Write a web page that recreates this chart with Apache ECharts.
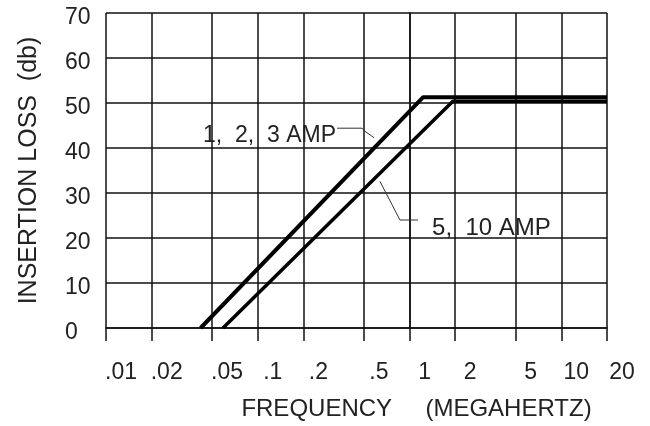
<!DOCTYPE html>
<html>
<head>
<meta charset="utf-8">
<script src="https://cdn.jsdelivr.net/npm/echarts@6/dist/echarts.min.js"></script>
<style>html,body{margin:0;padding:0;background:#fff}#c{width:650px;height:426px}</style>
</head>
<body>
<div id="c"></div>
<script>
// Tick frequencies (MHz) and their labels
const tickFreqs = [0.01, 0.02, 0.05, 0.1, 0.2, 0.5, 1, 2, 5, 10, 20];
const tickLabels = ['.01', '.02', '.05', '.1', '.2', '.5', '1', '2', '5', '10', '20'];
const yTicks = [0, 10, 20, 30, 40, 50, 60, 70];

// Curves: [frequency MHz, insertion loss dB]
const amp123 = [[0.042, 0], [1.23, 51.3], [20, 51.3]];
const amp510 = [[0.059, 0], [1.93, 50.4], [20, 50.4]];

// Annotation leaders: [frequency MHz, dB]
const leader123 = [[0.333, 44.4], [0.487, 44.4], [0.509, 43.7], [0.583, 42.3]];
const leader510 = [[1.137, 24.0], [0.865, 24.0], [0.638, 32.6]];
const label123 = '1,  2,  3 AMP';
const label510 = '5,  10 AMP';

const toLog = pts => pts.map(p => [Math.log10(p[0]), p[1]]);
const tickLogs = tickFreqs.map(f => Math.log10(f));
const FONT = 'Liberation Sans, Arial, sans-serif';
const TXT = '#222';

function leaderSeries(pts, text, pos, dist, off, size) {
  const d = toLog(pts).map((v, i) => i === 0 ? {
    value: v,
    label: { show: true, position: pos, distance: dist, offset: off, formatter: text,
             fontFamily: FONT, fontSize: size, color: TXT }
  } : { value: v });
  return {
    type: 'line', data: d, symbol: 'circle', symbolSize: 0.1, showSymbol: true,
    lineStyle: { color: '#333', width: 1 }, itemStyle: { color: '#333' },
    silent: true, z: 3, animation: false
  };
}

const chart = echarts.init(document.getElementById('c'), null, { renderer: 'canvas' });
chart.setOption({
  backgroundColor: '#fff',
  animation: false,
  grid: { left: 106, right: 43, top: 13, bottom: 98, outerBoundsMode: 'none' },
  xAxis: {
    type: 'value',
    min: Math.log10(0.01),
    max: Math.log10(20),
    name: 'FREQUENCY     (MEGAHERTZ)',
    nameLocation: 'middle',
    nameGap: 69,
    nameMoveOverlap: false,
    nameTextStyle: { fontFamily: FONT, fontSize: 24, color: TXT, padding: [0, 0, 0, 120] },
    axisLine: { show: true, lineStyle: { color: '#111', width: 1.5 } },
    axisTick: { show: true, inside: false, length: 13, customValues: tickLogs,
                lineStyle: { color: '#111', width: 1.5 } },
    splitLine: { show: true, lineStyle: { color: '#111', width: 1.5 } },
    axisLabel: {
      customValues: tickLogs,
      margin: 33,
      fontFamily: FONT, fontSize: 23, color: TXT,
      padding: [0, 0, 0, 30],
      formatter: v => {
        const i = tickLogs.findIndex(t => Math.abs(t - v) < 1e-6);
        return i >= 0 ? tickLabels[i] : '';
      }
    }
  },
  yAxis: {
    type: 'value',
    min: 0, max: 70, interval: 10,
    name: 'INSERTION LOSS  (db)',
    nameLocation: 'middle',
    nameGap: 64,
    nameMoveOverlap: false,
    nameTextStyle: { fontFamily: FONT, fontSize: 25, color: TXT },
    axisLine: { show: true, lineStyle: { color: '#111', width: 1.5 } },
    axisTick: { show: false },
    splitLine: { show: true, lineStyle: { color: '#111', width: 1.5 } },
    axisLabel: {
      align: 'left', margin: 41,
      verticalAlign: 'top', lineHeight: 10,
      fontFamily: FONT, fontSize: 23, color: TXT,
      customValues: yTicks
    }
  },
  series: [
    { type: 'line', name: '1, 2, 3 AMP', data: toLog(amp123), symbol: 'none',
      lineStyle: { color: '#000', width: 4 }, z: 4 },
    { type: 'line', name: '5, 10 AMP', data: toLog(amp510), symbol: 'none',
      lineStyle: { color: '#000', width: 3.5 }, z: 4 },
    leaderSeries(leader123, label123, 'left', 1, [0, 7], 23),
    leaderSeries(leader510, label510, 'right', 14, [0, 8], 24)
  ]
});
</script>
</body>
</html>
